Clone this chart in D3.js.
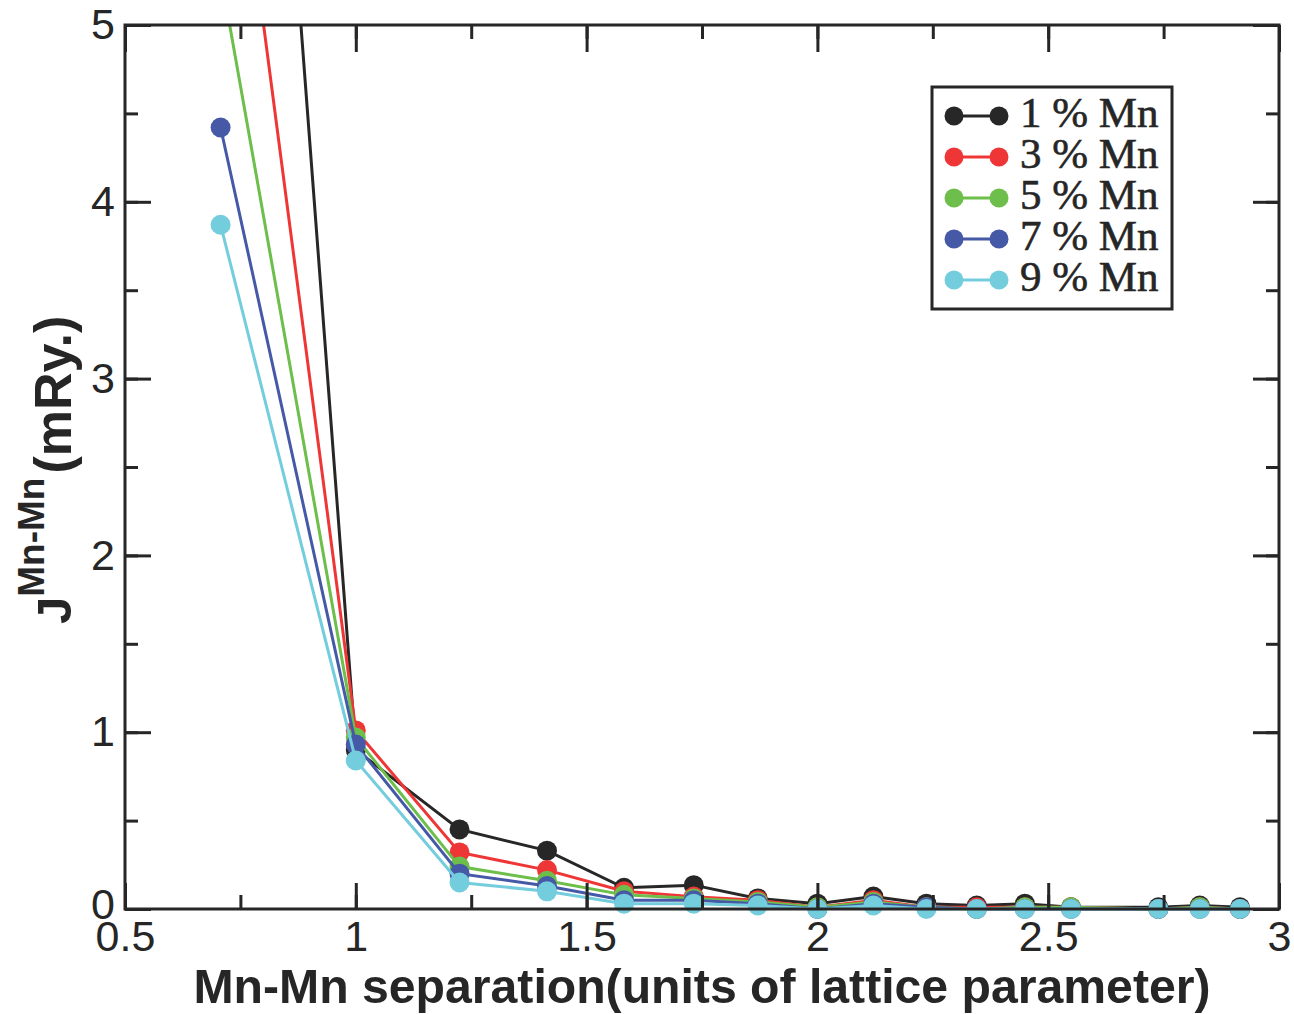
<!DOCTYPE html>
<html>
<head>
<meta charset="utf-8">
<script src="https://cdn.jsdelivr.net/npm/d3@7"></script>
<style>
  html, body { margin: 0; padding: 0; background: #fff; }
  svg { display: block; }
</style>
</head>
<body>
<div id="chart"></div>
<script>
// shells of the fcc lattice, in units of the lattice parameter
const separation = [0.7071, 1.0, 1.2247, 1.4142, 1.5811, 1.7321, 1.8708, 2.0,
                    2.1213, 2.2361, 2.3452, 2.4495, 2.5495, 2.7386, 2.8284, 2.9155];

const mn1 = [11.0, 0.90, 0.45, 0.33, 0.12, 0.135, 0.06, 0.03, 0.07, 0.03, 0.02, 0.03, 0.01, 0.01, 0.02, 0.01];
const mn3 = [6.86, 1.01, 0.32, 0.22, 0.10, 0.07, 0.05, 0.01, 0.05, 0.01, 0.01, 0.01, 0.01, 0.00, 0.01, 0.00];
const mn5 = [5.29, 0.97, 0.24, 0.16, 0.08, 0.06, 0.04, 0.01, 0.04, 0.01, 0.00, 0.01, 0.01, 0.00, 0.01, 0.00];
const mn7 = [4.42, 0.93, 0.20, 0.13, 0.05, 0.05, 0.03, 0.00, 0.03, 0.01, 0.00, 0.00, 0.00, 0.00, 0.00, 0.00];
const mn9 = [3.87, 0.84, 0.15, 0.10, 0.03, 0.03, 0.02, 0.00, 0.02, 0.00, 0.00, 0.00, 0.00, 0.00, 0.00, 0.00];

const seriesNames = ["1 % Mn", "3 % Mn", "5 % Mn", "7 % Mn", "9 % Mn"];
const seriesColors = ["#272727", "#ef3636", "#6dbe4b", "#4559a6", "#74cddd"];
const xTicks = [0.5, 1, 1.5, 2, 2.5, 3];
const yTicks = [0, 1, 2, 3, 4, 5];

const W = 1294, H = 1014,
      margin = {top: 25, right: 15, bottom: 105, left: 125};
const width = W - margin.left - margin.right,
      height = H - margin.top - margin.bottom;

const svg = d3.select("#chart").append("svg")
    .attr("width", W)
    .attr("height", H);

const g = svg.append("g")
    .attr("transform", `translate(${margin.left},${margin.top})`);

const x = d3.scaleLinear().domain([0.5, 3]).range([0, width]);
const y = d3.scaleLinear().domain([0, 5]).range([height, 0]);

// only the top edge clips the curves, markers may hang below the axis
g.append("clipPath").attr("id", "clip")
  .append("rect")
    .attr("x", -30).attr("y", 0)
    .attr("width", width + 60).attr("height", height + 40);

const series = [mn1, mn3, mn5, mn7, mn9].map((vals, i) => ({
  name: seriesNames[i],
  color: seriesColors[i],
  values: vals.map((v, j) => ({x: separation[j], y: v}))
}));

const line = d3.line()
    .x(d => x(d.x))
    .y(d => y(d.y));

const plot = g.append("g").attr("clip-path", "url(#clip)");

series.forEach(s => {
  const sg = plot.append("g");
  sg.append("path")
      .datum(s.values)
      .attr("fill", "none")
      .attr("stroke", s.color)
      .attr("stroke-width", 3)
      .attr("d", line);
  sg.selectAll("circle")
      .data(s.values)
      .enter().append("circle")
      .attr("cx", d => x(d.x))
      .attr("cy", d => y(d.y))
      .attr("r", 10)
      .attr("fill", s.color);
});

// axes: ticks point inward on all four sides
const ink = "#262626";
const tickFont = "'Liberation Sans', Arial, sans-serif";

function styleAxis(sel) {
  sel.select(".domain").remove();
  sel.selectAll(".tick line").attr("stroke", ink).attr("stroke-width", 3);
  sel.selectAll("text")
     .attr("fill", ink)
     .style("font-family", tickFont)
     .style("font-size", "43px");
}

const xMinor = d3.range(0.5, 3.001, 0.25);
const yMinor = d3.range(0, 5.001, 0.5);

g.append("g").attr("transform", `translate(0,${height})`)
  .call(d3.axisBottom(x).tickValues(xMinor).tickSize(-14).tickFormat(""))
  .call(styleAxis);
g.append("g").attr("transform", `translate(0,${height})`)
  .call(d3.axisBottom(x).tickValues(xTicks).tickSize(-26).tickPadding(11)
        .tickFormat(d3.format("")))
  .call(styleAxis);

g.append("g")
  .call(d3.axisTop(x).tickValues(xMinor).tickSize(-14).tickFormat(""))
  .call(styleAxis);
g.append("g")
  .call(d3.axisTop(x).tickValues(xTicks).tickSize(-27).tickFormat(""))
  .call(styleAxis);

const yAxis = g.append("g");
yAxis.call(d3.axisLeft(y).tickValues(yMinor).tickSize(-13).tickFormat(""))
  .call(styleAxis);
g.append("g")
  .call(d3.axisLeft(y).tickValues(yTicks).tickSize(-26).tickPadding(10)
        .tickFormat(d3.format("")))
  .call(styleAxis)
  .selectAll(".tick text")
  .attr("dy", d => d === 0 ? "0.22em" : "0.32em");   // the 0 sits a bit high, clear of 0.5

g.append("g").attr("transform", `translate(${width},0)`)
  .call(d3.axisRight(y).tickValues(yMinor).tickSize(-13).tickFormat(""))
  .call(styleAxis);
g.append("g").attr("transform", `translate(${width},0)`)
  .call(d3.axisRight(y).tickValues(yTicks).tickSize(-26).tickFormat(""))
  .call(styleAxis);

// frame
g.append("rect")
    .attr("width", width)
    .attr("height", height)
    .attr("fill", "none")
    .attr("stroke", ink)
    .attr("stroke-width", 3);

// axis titles
g.append("text")
    .attr("x", width / 2)
    .attr("y", height + 94)
    .attr("text-anchor", "middle")
    .attr("textLength", 1017)
    .attr("lengthAdjust", "spacingAndGlyphs")
    .attr("fill", ink)
    .style("font-family", tickFont)
    .style("font-weight", "bold")
    .style("font-size", "49px")
    .text("Mn-Mn separation(units of lattice parameter)");

const yl = svg.append("text")
    .attr("transform", "translate(71,624) rotate(-90)")
    .attr("fill", ink)
    .style("font-family", tickFont)
    .style("font-weight", "bold")
    .style("font-size", "49px");
yl.append("tspan").text("J");
yl.append("tspan").attr("dy", -27).style("font-size", "37px").text("Mn-Mn");
yl.append("tspan").attr("dy", 27).attr("dx", 4).style("font-size", "52px").text("(mRy.)");

// legend
const lg = svg.append("g").attr("transform", "translate(932,87)");
lg.append("rect")
    .attr("width", 240)
    .attr("height", 222)
    .attr("fill", "#fff")
    .attr("stroke", ink)
    .attr("stroke-width", 3);

const item = lg.selectAll(".item")
    .data(series)
    .enter().append("g")
    .attr("class", "item")
    .attr("transform", (d, i) => `translate(0,${29 + i * 41})`);

item.append("line")
    .attr("x1", 22).attr("x2", 67)
    .attr("stroke", d => d.color)
    .attr("stroke-width", 3);
item.selectAll("circle")
    .data(d => [22, 67].map(cx => ({cx, color: d.color})))
    .enter().append("circle")
    .attr("cx", d => d.cx)
    .attr("r", 9.5)
    .attr("fill", d => d.color);
item.append("text")
    .attr("x", 88)
    .attr("y", 11)
    .attr("fill", ink)
    .attr("stroke", ink)
    .attr("stroke-width", 0.6)
    .style("font-family", "'Liberation Serif', 'Times New Roman', serif")
    .style("font-size", "43px")
    .text(d => d.name);
</script>
</body>
</html>
